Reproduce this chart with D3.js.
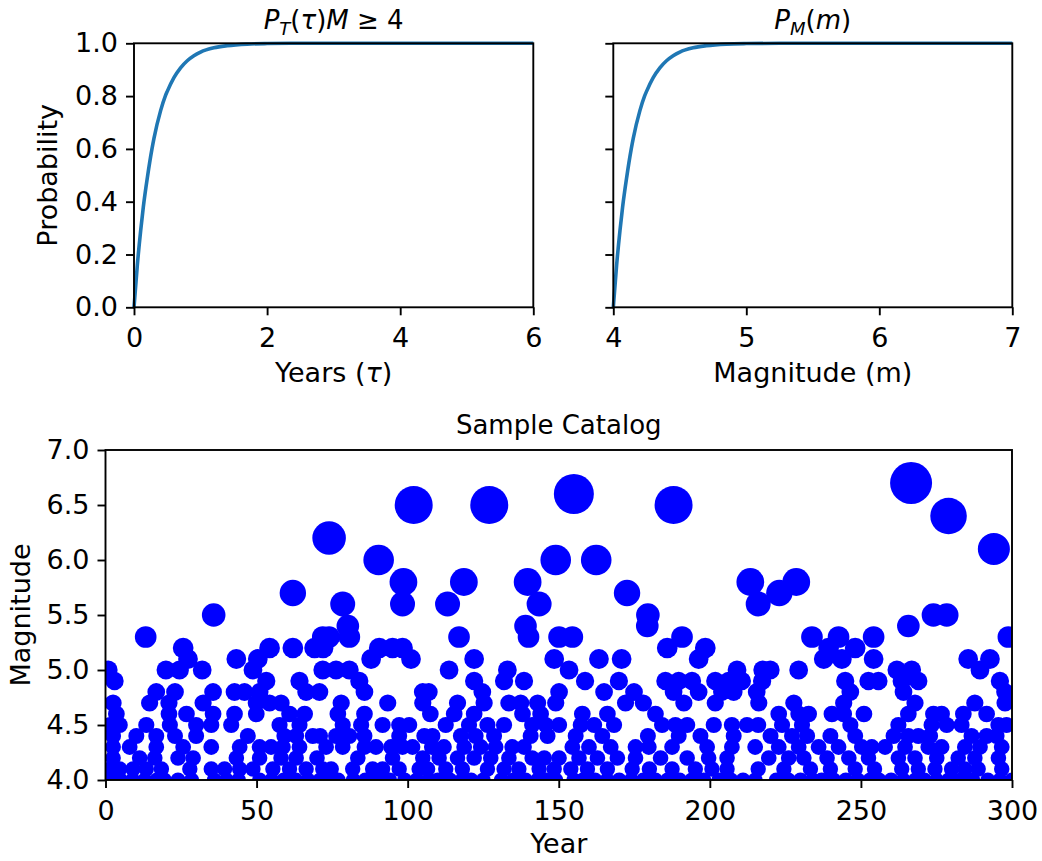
<!DOCTYPE html>
<html>
<head>
<meta charset="utf-8">
<script src="https://cdn.jsdelivr.net/npm/d3@7"></script>
<style>
    body { margin: 0; background: #fff; }
    text { font-family: "DejaVu Sans", sans-serif; }
</style>
</head>
<body>
<div id="chart"></div>
<script>
// Cumulative curves
const tau_years = [0, 0.05, 0.1, 0.14, 0.2, 0.27, 0.3, 0.4, 0.47, 0.5, 0.6, 0.7, 0.8, 0.9, 1.0,
                   1.2, 1.4, 1.7, 2.0, 2.5, 3.0, 6.0];
const p_tau     = [0, 0.16, 0.29, 0.38, 0.49, 0.6, 0.64, 0.745, 0.8, 0.818, 0.87, 0.907, 0.934, 0.953, 0.967,
                   0.983, 0.991, 0.997, 0.999, 1.0, 1.0, 1.0];
const m_values  = [4.0, 4.025, 4.05, 4.07, 4.1, 4.135, 4.15, 4.2, 4.235, 4.25, 4.3, 4.35, 4.4, 4.45, 4.5,
                   4.6, 4.7, 4.85, 5.0, 5.25, 5.5, 7.0];
const p_mag     = [0, 0.16, 0.29, 0.38, 0.49, 0.6, 0.64, 0.745, 0.8, 0.818, 0.87, 0.907, 0.934, 0.953, 0.967,
                   0.983, 0.991, 0.997, 0.999, 1.0, 1.0, 1.0];

// Sample catalog: years of events, grouped by magnitude
const catalog_mags = [6.7, 6.6, 6.5, 6.4, 6.2, 6.1, 6.0, 5.8, 5.7, 5.6, 5.5, 5.4, 5.3, 5.2, 5.1, 5.0,
                      4.9, 4.8, 4.7, 4.6, 4.5, 4.4, 4.3, 4.2, 4.1, 4.0];
const catalog_years = [
    [266.6],
    [155],
    [102, 127, 188],
    [279],
    [74],
    [294],
    [90.4, 149, 162.4],
    [98.6, 118.6, 139.7, 213.4, 228.6],
    [62, 172.6, 223],
    [78.5, 98.3, 113.2, 143.5, 216],
    [35.8, 179.5, 274, 278.4],
    [80.2, 139, 179.3, 265.7],
    [13.3, 71.9, 74, 80.7, 117, 140, 150.1, 154.5, 190.8, 233.8, 242.6, 254.2, 298.8],
    [25.7, 54.3, 62, 69.2, 72, 90.6, 95, 98.3, 185.9, 198.5, 239.3, 248.1],
    [27.3, 43.3, 50.4, 87.9, 101.1, 122, 148.5, 163.3, 170.8, 196.3, 237.7, 243.7, 254.2, 285.5, 292.7],
    [0.9, 20, 24.5, 32, 48.8, 71.9, 76.3, 80.7, 113.7, 133, 153.4, 209, 217.5, 220, 229.4, 261.9, 266.8, 289.4],
    [3, 53.2, 64.2, 84, 122, 131.9, 138.5, 158.7, 169.9, 185.3, 189.7, 194.1, 201.8, 206.2, 210.6, 217.3,
     244.8, 252.5, 255.8, 263.5, 269, 296],
    [16.8, 23, 35.6, 42.7, 46, 51, 66.4, 70.8, 85.7, 105, 107, 124.7, 150.1, 165, 174.9, 188, 196.3, 204,
     207.9, 215.5, 246.5, 264.1, 297.7],
    [2.5, 14.6, 21, 32.3, 49.9, 54.3, 58.1, 78, 93.4, 105, 116.5, 125.3, 133.5, 137.4, 143, 149, 172.1, 178,
     191.4, 201.8, 216.2, 227.8, 244.3, 267.9, 287.7, 297.7],
    [3.6, 21, 26.8, 35.6, 42.7, 49.9, 60.9, 65.9, 76.9, 85.7, 107.5, 115.4, 122, 138, 144, 157.8, 166.1,
     182, 222.8, 229.4, 232.7, 240.4, 244.3, 251, 265.7, 274, 276.7, 283.9, 291.6],
    [1.4, 4.7, 13.5, 21.3, 30, 35, 41.6, 57.6, 64.2, 78.5, 84.6, 91.7, 97.2, 100.5, 112.6, 120.3, 126.4,
     131.9, 141.2, 145.7, 150.1, 157.3, 161.7, 168.3, 184.2, 188.6, 192.5, 201.3, 207.3, 212.3, 216, 223.9,
     230.5, 246.5, 262.4, 273.4, 278.4, 283.3, 295.5, 298.2],
    [2.5, 10.2, 16.8, 23, 30, 47.1, 59.2, 63.1, 68.6, 71, 76.3, 80.7, 85.7, 97.2, 105.5, 108.2, 117.6, 122.5,
     128.6, 140.7, 146.3, 155.6, 164.4, 179.5, 189.7, 196.9, 207.9, 220.1, 227.2, 232.2, 239.9, 248.1, 260.8,
     265.7, 269, 272.9, 286.6, 291.6, 294.9],
    [2.5, 8, 16.8, 25.7, 35, 44.4, 51, 54.8, 58.7, 64.2, 73, 78.5, 85.7, 89.5, 94.5, 98.3, 101.6, 108, 112,
     118.7, 124.2, 129.1, 134.6, 138.5, 154.5, 160, 167.2, 175.4, 179.8, 187.5, 199.1, 207.3, 215, 222.8,
     229.4, 236, 242.6, 250.3, 253.6, 258, 264.6, 272.3, 276.7, 284.4, 289.4, 296.6],
    [2.5, 11.3, 16.3, 24, 29, 43.3, 51, 58.1, 63.1, 70, 83.5, 95, 105, 110.4, 116.5, 122, 127.5, 133.5, 141.2,
     145.2, 150.1, 156.7, 162.8, 169.4, 175.4, 183.7, 192.5, 199.6, 205.7, 219.5, 226.1, 231.1, 238.8, 246,
     252.5, 262.4, 267.9, 275.1, 282.2, 287.7, 295.5],
    [1.4, 4.7, 9.1, 13.5, 18.5, 27.9, 35, 39.4, 44.4, 48.8, 55.4, 60.9, 66.4, 71.9, 74.7, 81.8, 88.4, 91.7,
     97.2, 103.8, 106.6, 112.6, 118.1, 126.4, 131.9, 136.8, 143.5, 148.5, 154, 159.5, 166.1, 174.3, 180, 187.5,
     195.2, 200.7, 205.7, 216, 224.5, 233.3, 239.9, 248.1, 254.5, 263.5, 269, 274.5, 280, 284.4, 288.8, 296.6],
    [1.5, 5, 9, 13, 17, 19.5, 24, 28.5, 36, 40, 44, 51, 55, 59, 63, 67, 71, 73.5, 77, 82, 86, 90, 94, 99, 103,
     107, 110, 114, 118, 121, 125, 131, 135, 139, 143, 146, 149, 155, 158, 162, 166, 170, 174, 178, 182, 186,
     190, 194, 198, 203, 207, 211, 215, 222, 226, 230, 234, 237, 241, 245, 249, 253, 256, 260, 264, 268, 271,
     275, 279, 283, 287, 292, 296, 300]
];

const tau_ticks = [0, 2, 4, 6];
const mag_ticks = [4, 5, 6, 7];
const prob_ticks = [0, 0.2, 0.4, 0.6, 0.8, 1.0];
const year_ticks = [0, 50, 100, 150, 200, 250, 300];
const cat_mag_ticks = [4.0, 4.5, 5.0, 5.5, 6.0, 6.5, 7.0];

const width = 1042;
const height = 861;
const font_size = 27;
const title_size = 26;
const line_w = 1.9;
const tick_len = 8;

const svg = d3.select('#chart')
    .append('svg')
    .attr('width', width)
    .attr('height', height);

// Scales
const top_y = 43.3, top_bottom = 307.3;
const x_tau = d3.scaleLinear().domain([0, 6]).range([134, 533.3]);
const x_mag = d3.scaleLinear().domain([4, 7]).range([613.3, 1012.3]);
const y_prob = d3.scaleLinear().domain([0, 1]).range([top_bottom, top_y]);

const x_year = d3.scaleLinear().domain([0, 300]).range([105.5, 1012]);
const y_cat = d3.scaleLinear().domain([4, 7]).range([780, 450]);

const r_scale = d3.scaleLinear()
    .domain([4.0, 4.5, 5.0, 5.5, 6.0, 6.5, 6.7])
    .range([7.6, 8.1, 9.4, 11.8, 15.3, 19, 21]);

function style_axis(g) {
    g.attr('font-size', null).attr('font-family', null);
    g.select('.domain').remove();
    g.selectAll('.tick line').attr('stroke', '#000').attr('stroke-width', line_w);
    g.selectAll('.tick text')
        .attr('fill', '#000')
        .attr('font-size', font_size)
        .style('font-family', '"DejaVu Sans", sans-serif');
}

function frame(x0, x1, y0, y1) {
    svg.append('rect')
        .attr('x', x0).attr('y', y1)
        .attr('width', x1 - x0).attr('height', y0 - y1)
        .attr('fill', 'none')
        .attr('stroke', '#000')
        .attr('stroke-width', line_w);
}

// Top-left: P_T(tau)
const line_tau = d3.line()
    .x(d => x_tau(d[0]))
    .y(d => y_prob(d[1]))
    .curve(d3.curveMonotoneX);

svg.append('path')
    .datum(d3.zip(tau_years, p_tau))
    .attr('d', line_tau)
    .attr('fill', 'none')
    .attr('stroke', '#1f77b4')
    .attr('stroke-width', 3.6);

svg.append('g')
    .attr('transform', `translate(0, ${top_bottom})`)
    .call(d3.axisBottom(x_tau).tickValues(tau_ticks).tickFormat(d3.format('d'))
        .tickSize(tick_len).tickPadding(13))
    .call(style_axis);

svg.append('g')
    .attr('transform', `translate(${x_tau.range()[0]}, 0)`)
    .call(d3.axisLeft(y_prob).tickValues(prob_ticks).tickFormat(d3.format('.1f'))
        .tickSize(tick_len).tickPadding(8))
    .call(style_axis);

frame(x_tau.range()[0], x_tau.range()[1], top_bottom, top_y);

// Top-right: P_M(m)
const line_mag = d3.line()
    .x(d => x_mag(d[0]))
    .y(d => y_prob(d[1]))
    .curve(d3.curveMonotoneX);

svg.append('path')
    .datum(d3.zip(m_values, p_mag))
    .attr('d', line_mag)
    .attr('fill', 'none')
    .attr('stroke', '#1f77b4')
    .attr('stroke-width', 3.6);

svg.append('g')
    .attr('transform', `translate(0, ${top_bottom})`)
    .call(d3.axisBottom(x_mag).tickValues(mag_ticks).tickFormat(d3.format('d'))
        .tickSize(tick_len).tickPadding(13))
    .call(style_axis);

svg.append('g')
    .attr('transform', `translate(${x_mag.range()[0]}, 0)`)
    .call(d3.axisLeft(y_prob).tickValues(prob_ticks).tickFormat('')
        .tickSize(tick_len))
    .call(style_axis);

frame(x_mag.range()[0], x_mag.range()[1], top_bottom, top_y);

// Bottom: sample catalog
const catalog = catalog_mags.flatMap((m, i) => catalog_years[i].map(yr => ({ year: yr, mag: m })));

svg.append('clipPath')
    .attr('id', 'cat-clip')
    .append('rect')
    .attr('x', x_year.range()[0]).attr('y', y_cat.range()[1])
    .attr('width', x_year.range()[1] - x_year.range()[0])
    .attr('height', y_cat.range()[0] - y_cat.range()[1]);

svg.append('g')
    .attr('clip-path', 'url(#cat-clip)')
    .selectAll('circle')
    .data(catalog)
    .enter()
    .append('circle')
    .attr('cx', d => x_year(d.year))
    .attr('cy', d => y_cat(d.mag))
    .attr('r', d => r_scale(d.mag))
    .attr('fill', '#0000ff');

svg.append('g')
    .attr('transform', `translate(0, ${y_cat.range()[0]})`)
    .call(d3.axisBottom(x_year).tickValues(year_ticks).tickFormat(d3.format('d'))
        .tickSize(tick_len).tickPadding(13))
    .call(style_axis);

svg.append('g')
    .attr('transform', `translate(${x_year.range()[0]}, 0)`)
    .call(d3.axisLeft(y_cat).tickValues(cat_mag_ticks).tickFormat(d3.format('.1f'))
        .tickSize(tick_len).tickPadding(8))
    .call(style_axis);

frame(x_year.range()[0], x_year.range()[1], y_cat.range()[0], y_cat.range()[1]);

// Titles and labels
function label(x, y, txt, size, rotate) {
    const t = svg.append('text')
        .attr('text-anchor', 'middle')
        .attr('font-size', size)
        .attr('fill', '#000');
    if (rotate) t.attr('transform', `translate(${x}, ${y}) rotate(-90)`);
    else t.attr('x', x).attr('y', y);
    return t.text(txt);
}

// P_T(τ)M ≥ 4
const t1 = svg.append('text')
    .attr('x', (x_tau.range()[0] + x_tau.range()[1]) / 2)
    .attr('y', 29)
    .attr('text-anchor', 'middle')
    .attr('font-size', title_size);
t1.append('tspan').attr('font-style', 'italic').text('P');
t1.append('tspan').attr('font-style', 'italic').attr('font-size', 18).attr('dy', 6).text('T');
t1.append('tspan').attr('dy', -6).text('(');
t1.append('tspan').attr('font-style', 'italic').text('τ');
t1.append('tspan').text(')');
t1.append('tspan').attr('font-style', 'italic').text('M');
t1.append('tspan').text(' ≥ 4');

// P_M(m)
const t2 = svg.append('text')
    .attr('x', (x_mag.range()[0] + x_mag.range()[1]) / 2)
    .attr('y', 29)
    .attr('text-anchor', 'middle')
    .attr('font-size', title_size);
t2.append('tspan').attr('font-style', 'italic').text('P');
t2.append('tspan').attr('font-style', 'italic').attr('font-size', 18).attr('dy', 6).text('M');
t2.append('tspan').attr('dy', -6).text('(');
t2.append('tspan').attr('font-style', 'italic').text('m');
t2.append('tspan').text(')');

// Years (τ)
const xl1 = svg.append('text')
    .attr('x', (x_tau.range()[0] + x_tau.range()[1]) / 2)
    .attr('y', 382)
    .attr('text-anchor', 'middle')
    .attr('font-size', font_size);
xl1.append('tspan').text('Years (');
xl1.append('tspan').attr('font-style', 'italic').text('τ');
xl1.append('tspan').text(')');

label((x_mag.range()[0] + x_mag.range()[1]) / 2, 382, 'Magnitude (m)', font_size);
label(57, (top_y + top_bottom) / 2, 'Probability', font_size, true);

label((x_year.range()[0] + x_year.range()[1]) / 2, 434, 'Sample Catalog', title_size);
label((x_year.range()[0] + x_year.range()[1]) / 2, 853, 'Year', font_size);
label(30, (y_cat.range()[0] + y_cat.range()[1]) / 2, 'Magnitude', font_size, true);
</script>
</body>
</html>
